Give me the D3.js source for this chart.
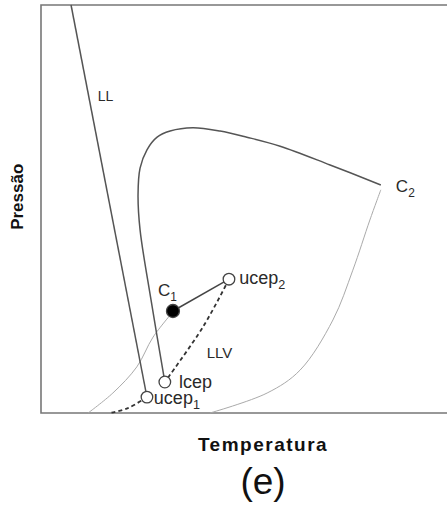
<!DOCTYPE html>
<html>
<head>
<meta charset="utf-8">
<script src="https://cdn.jsdelivr.net/npm/d3@7"></script>
<style>
    body { margin: 0; background: #fff; }
    svg text { font-family: "Liberation Sans", Arial, sans-serif; fill: #2a2a2a; }
</style>
</head>
<body>
<div id="chart"></div>
<script>
// P-T projection, all values in relative units (0-100)
var llLine        = [[7.4, 100], [26.1, 3.9]];
var criticalLine  = [[30.5, 7.6], [27.1, 27.7], [24.4, 44.9], [23.9, 53.4], [24.4, 60.0], [26.1, 64.5],
                     [28.6, 67.6], [31.8, 69.1], [37.4, 69.9], [44.1, 69.1], [50.7, 67.6], [58.9, 65.4],
                     [71.2, 60.8], [83.7, 55.9]];
var vapor2        = [[83.7, 54.7], [81.0, 47.3], [76.8, 35.0], [71.9, 22.8], [63.8, 10.5], [55.7, 4.9], [41.6, 0]];
var vapor1        = [[32.5, 24.8], [27.6, 18.6], [23.6, 11.3], [17.7, 4.9], [11.6, 0]];
var llvLine       = [[46.3, 32.8], [39.9, 21.1], [30.5, 7.6]];
var llvLow        = [[26.1, 3.9], [21.4, 1.2], [17.0, 0]];
var c1Link        = [[32.5, 25.0], [46.3, 32.8]];
var points        = [
    {name: "C1", t: 32.5, p: 25.0, filled: true},
    {name: "ucep2", t: 46.3, p: 32.8, filled: false},
    {name: "lcep", t: 30.5, p: 7.6, filled: false},
    {name: "ucep1", t: 26.1, p: 3.9, filled: false}
];
var labels        = [
    {main: "LL", sub: "", t: 14.0, p: 76.5, size: 14},
    {main: "C", sub: "2", t: 87.4, p: 54.2, size: 17},
    {main: "C", sub: "1", t: 28.8, p: 28.6, size: 17},
    {main: "ucep", sub: "2", t: 48.8, p: 31.6, size: 18},
    {main: "LLV", sub: "", t: 40.8, p: 13.5, size: 15},
    {main: "lcep", sub: "", t: 34.0, p: 6.1, size: 18},
    {main: "ucep", sub: "1", t: 27.8, p: 2.2, size: 18}
];

var width = 447, height = 508;
var margin = {top: 5, right: 0, bottom: 95, left: 41};

var svg = d3.select("#chart").append("svg")
    .attr("width", width)
    .attr("height", height);

var x = d3.scaleLinear().domain([0, 100]).range([margin.left, width - margin.right]);
var y = d3.scaleLinear().domain([0, 100]).range([height - margin.bottom, margin.top]);

var line = d3.line()
    .x(function (d) { return x(d[0]); })
    .y(function (d) { return y(d[1]); });
var smooth = d3.line()
    .x(function (d) { return x(d[0]); })
    .y(function (d) { return y(d[1]); })
    .curve(d3.curveCatmullRom.alpha(0.5));

// frame: left, top and bottom only
svg.append("path")
    .attr("d", "M" + x.range()[1] + "," + y(100) + "H" + x(0) + "V" + y(0) + "H" + x.range()[1])
    .attr("fill", "none")
    .attr("stroke", "#777")
    .attr("stroke-width", 1.6);

// vapour pressure curves (light)
[vapor1, vapor2].forEach(function (d) {
    svg.append("path")
        .attr("d", smooth(d))
        .attr("fill", "none")
        .attr("stroke", "#aaa")
        .attr("stroke-width", 1);
});

svg.append("path").attr("d", line(llLine))
    .attr("fill", "none").attr("stroke", "#555").attr("stroke-width", 1.5);
svg.append("path").attr("d", smooth(criticalLine))
    .attr("fill", "none").attr("stroke", "#555").attr("stroke-width", 1.5);
svg.append("path").attr("d", line(c1Link))
    .attr("fill", "none").attr("stroke", "#444").attr("stroke-width", 1.5);

[llvLine, llvLow].forEach(function (d) {
    svg.append("path")
        .attr("d", smooth(d))
        .attr("fill", "none")
        .attr("stroke", "#333")
        .attr("stroke-width", 1.8)
        .attr("stroke-dasharray", "4,3");
});

svg.selectAll("circle.pt")
    .data(points)
    .enter().append("circle")
    .attr("class", "pt")
    .attr("cx", function (d) { return x(d.t); })
    .attr("cy", function (d) { return y(d.p); })
    .attr("r", function (d) { return d.filled ? 6.5 : 5.8; })
    .attr("fill", function (d) { return d.filled ? "#000" : "#fff"; })
    .attr("stroke", "#444")
    .attr("stroke-width", 1.3);

var lbl = svg.selectAll("text.lbl")
    .data(labels)
    .enter().append("text")
    .attr("class", "lbl")
    .attr("x", function (d) { return x(d.t); })
    .attr("y", function (d) { return y(d.p); })
    .style("font-size", function (d) { return d.size + "px"; });
lbl.append("tspan").text(function (d) { return d.main; });
lbl.append("tspan")
    .attr("dy", function (d) { return d.size * 0.3; })
    .style("font-size", function (d) { return (d.size * 0.7) + "px"; })
    .text(function (d) { return d.sub; });

// axis titles
svg.append("text")
    .attr("transform", "translate(23," + y(53) + ") rotate(-90)")
    .attr("text-anchor", "middle")
    .style("font-size", "17px")
    .style("font-weight", "bold")
    .style("fill", "#111")
    .text("Pressão");

svg.append("text")
    .attr("x", 263)
    .attr("y", 451)
    .attr("text-anchor", "middle")
    .style("font-size", "19px")
    .style("font-weight", "bold")
    .style("letter-spacing", "1.5px")
    .style("fill", "#111")
    .text("Temperatura");

svg.append("text")
    .attr("x", 263)
    .attr("y", 494)
    .attr("text-anchor", "middle")
    .style("font-size", "37px")
    .style("fill", "#111")
    .text("(e)");
</script>
</body>
</html>
